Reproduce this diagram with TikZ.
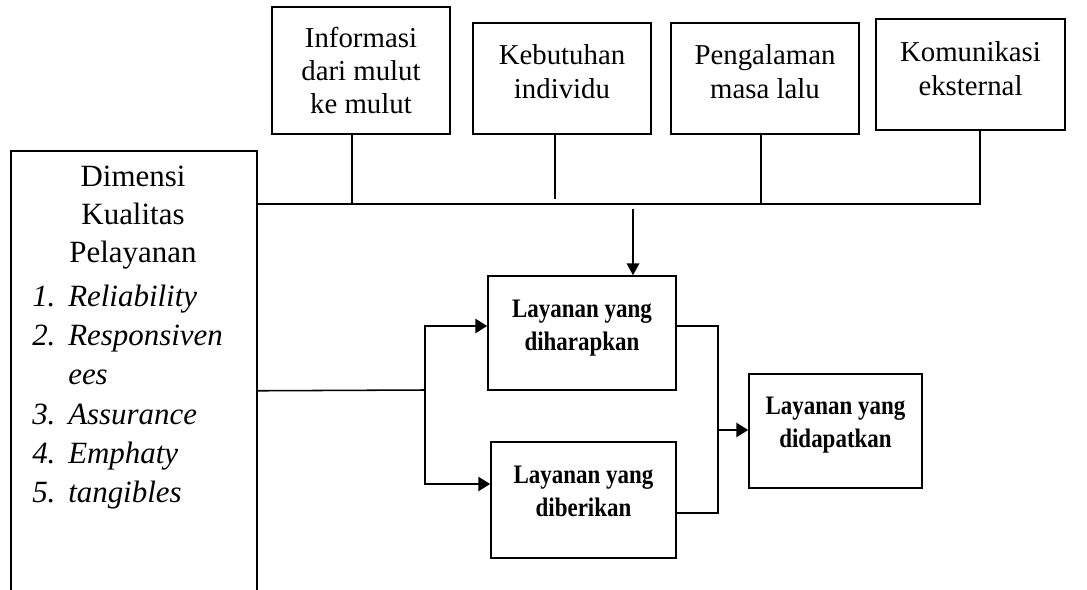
\documentclass[tikz,border=0pt]{standalone}
\usepackage{fontspec}
\setmainfont{Liberation Serif}
\newfontfamily\condserif{Liberation Serif}[FakeStretch=0.86]
\usetikzlibrary{positioning,arrows.meta}

\begin{document}
\begin{tikzpicture}[
  topbox/.style={draw, line width=1.1pt, align=center, inner sep=0pt, font=\fontsize{20.5}{23.5}\selectfont},
  midbox/.style={draw, line width=1.1pt, align=center, inner sep=0pt, font=\condserif\fontsize{19}{23.5}\selectfont\bfseries},
  link/.style={line width=1.1pt},
  tip/.style={-{Triangle[length=8.5pt,width=9pt]}},
  arr/.style={line width=1.8pt, -{Triangle[length=8.5pt,width=10pt]}}
]
\clip (0,0) rectangle (27.175,-14.725);
% top row of sources
\node[topbox, minimum width=4.45cm, minimum height=3.175cm] (info) at (9.025,-1.7625) {Informasi\\dari mulut\\ke mulut};
\node[topbox, minimum width=4.45cm, minimum height=2.775cm, text depth=0.35cm] (kebutuhan) at (14.05,-1.9625) {Kebutuhan\\individu};
\node[topbox, minimum width=4.7cm, minimum height=2.775cm, text depth=0.35cm] (pengalaman) at (19.125,-1.9625) {Pengalaman\\masa lalu};
\node[topbox, minimum width=4.725cm, minimum height=2.775cm, text depth=0.3cm] (komunikasi) at (24.2625,-1.8625) {Komunikasi\\eksternal};
% dimension box on the left
\node[draw, line width=1.1pt, minimum width=6.15cm, minimum height=12cm, anchor=north west] (dimensi) at (0.25,-3.75) {};
\node[anchor=north, align=center, font=\fontsize{22}{26.8}\selectfont, inner sep=0pt] (dimtitle) at (3.325,-4.15) {Dimensi\\Kualitas\\Pelayanan};
\node[anchor=north west, align=left, font=\fontsize{22}{27.9}\selectfont\itshape, inner sep=0pt] (dimlist) at (0.8,-7.12)
  {\makebox[25.6pt][l]{1.}Reliability\\\makebox[25.6pt][l]{2.}Responsiven\\\makebox[25.6pt][l]{}ees\\
   \makebox[25.6pt][l]{3.}Assurance\\\makebox[25.6pt][l]{4.}Emphaty\\\makebox[25.6pt][l]{5.}tangibles};
% service boxes
\node[midbox, minimum width=4.7cm, minimum height=2.85cm, text depth=0.38cm] (harapan) at (14.55,-8.325) {Layanan yang\\diharapkan};
\node[midbox, minimum width=4.625cm, minimum height=2.9cm, text depth=0.45cm] (diberikan) at (14.5875,-12.5) {Layanan yang\\diberikan};
\node[midbox, minimum width=4.325cm, minimum height=2.85cm, text depth=0.43cm] (didapatkan) at (20.8875,-10.775) {Layanan yang\\didapatkan};
% bus under the top row
\coordinate (bus) at (6.4,-5.1);
\coordinate (busend) at (24.5,-5.1);
\draw[link] (bus) -- (busend) -- (busend |- komunikasi.south);
\draw[link] ([xshift=-2.2mm]info.south) -- ([xshift=-2.2mm]info.south |- bus);
\draw[link] ([xshift=-1.75mm]kebutuhan.south) -- ++(0,-1.6);
\draw[link] ([xshift=-1mm]pengalaman.south) -- ([xshift=-1mm]pengalaman.south |- bus);
\coordinate (drop) at (15.825,-5.225);
\draw[link, tip] (drop) -- (drop |- harapan.north);
% split and join
\coordinate (split) at (10.625,-9.75);
\draw[link] (dimensi.east) -- (split);
\draw[arr] (split) |- ([yshift=1.75mm]harapan.west);
\draw[arr] (split) |- ([yshift=4mm]diberikan.west);
\coordinate (join) at (17.95,-10.75);
\draw[link] ([yshift=1.75mm]harapan.east) -| (join) |- ([yshift=-3.25mm]diberikan.east);
\draw[arr] (join) -- (join -| didapatkan.west);
\end{tikzpicture}
\end{document}
